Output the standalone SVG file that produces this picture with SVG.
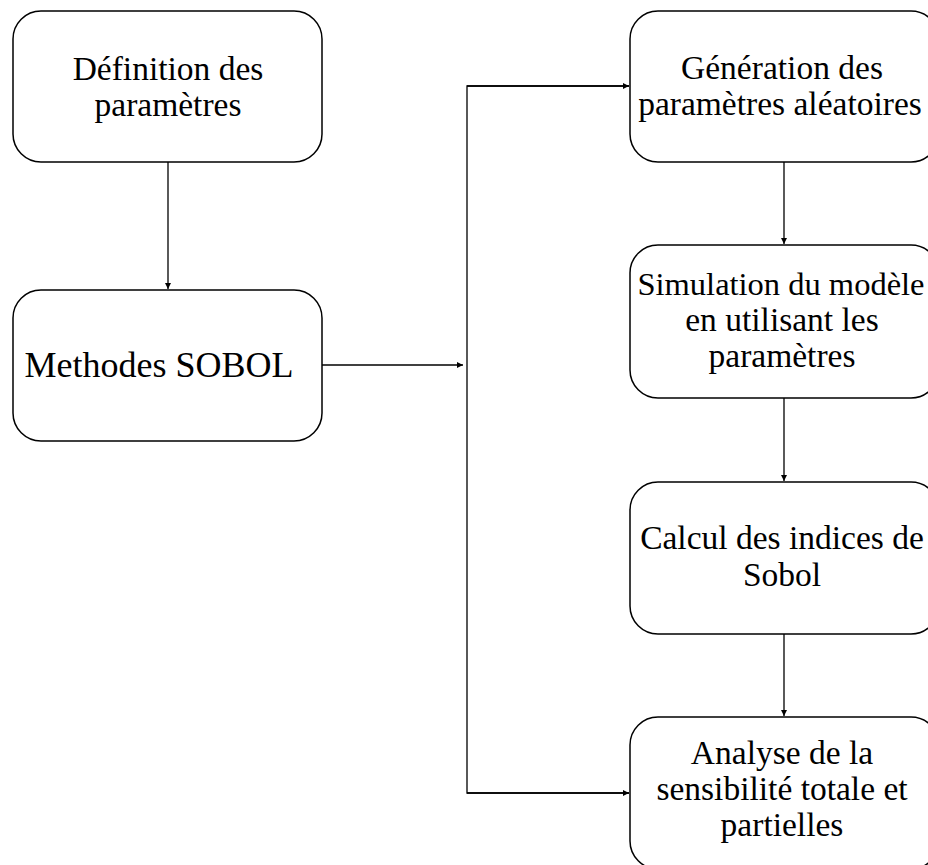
<svg xmlns="http://www.w3.org/2000/svg" width="928" height="865" viewBox="0 0 928 865">
<style>
.box{fill:#fff;stroke:#000;stroke-width:1.5}
.t{font-family:"Liberation Serif","Times New Roman",serif;font-size:33.5px;fill:#000;text-anchor:middle}
.c{fill:none;stroke:#000;stroke-width:1.3}
</style>
<defs>
<marker id="ah" viewBox="0 0 8 8" refX="8" refY="4" markerWidth="6" markerHeight="6" markerUnits="userSpaceOnUse" orient="auto">
<path d="M0,0 L8,4 L0,8 Z" fill="#000"/>
</marker>
</defs>
<rect width="928" height="865" fill="#fff"/>
<g id="connectors">
<line class="c" x1="168" y1="162" x2="168" y2="289" marker-end="url(#ah)"/>
<line class="c" x1="322" y1="365" x2="463" y2="365" marker-end="url(#ah)"/>
<polyline class="c" points="629,86 467,86 467,793 629,793"/>
<line class="c" x1="467" y1="86" x2="629" y2="86" marker-end="url(#ah)"/>
<line class="c" x1="467" y1="793" x2="629" y2="793" marker-end="url(#ah)"/>
<line class="c" x1="784" y1="162" x2="784" y2="244" marker-end="url(#ah)"/>
<line class="c" x1="784" y1="398" x2="784" y2="481" marker-end="url(#ah)"/>
<line class="c" x1="784" y1="634" x2="784" y2="716" marker-end="url(#ah)"/>
</g>
<g id="n1">
<rect class="box" x="13" y="11" width="309" height="151" rx="28"/>
<text class="t" x="168" y="80">Définition des</text>
<text class="t" x="168" y="116">paramètres</text>
</g>
<g id="n2">
<rect class="box" x="13" y="290" width="309" height="151" rx="28"/>
<text class="t" x="159" y="377" style="font-size:36px">Methodes SOBOL</text>
</g>
<g id="n3">
<rect class="box" x="630" y="11" width="309" height="151" rx="28"/>
<text class="t" x="782" y="79">Génération des</text>
<text class="t" x="780" y="115">paramètres aléatoires</text>
</g>
<g id="n4">
<rect class="box" x="630" y="245" width="309" height="153" rx="28"/>
<text class="t" x="781" y="295" style="font-size:32.5px">Simulation du modèle</text>
<text class="t" x="782" y="331">en utilisant les</text>
<text class="t" x="782" y="367">paramètres</text>
</g>
<g id="n5">
<rect class="box" x="630" y="482" width="309" height="152" rx="28"/>
<text class="t" x="782" y="549">Calcul des indices de</text>
<text class="t" x="782" y="586">Sobol</text>
</g>
<g id="n6">
<rect class="box" x="630" y="717" width="309" height="152" rx="28"/>
<text class="t" x="782" y="764">Analyse de la</text>
<text class="t" x="782" y="800">sensibilité totale et</text>
<text class="t" x="782" y="836">partielles</text>
</g>
</svg>
